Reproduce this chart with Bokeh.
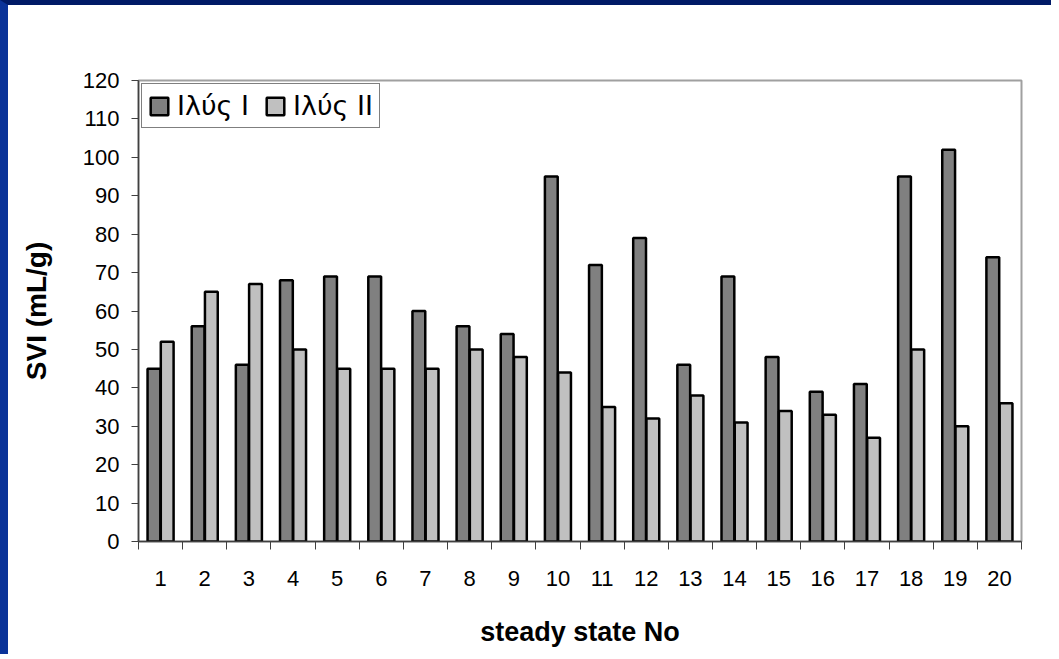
from bokeh.plotting import figure
from bokeh.models import ColumnDataSource, FixedTicker, Legend, LegendItem, Range1d
from bokeh.embed import file_html
from bokeh.resources import INLINE
from bokeh.transform import dodge

steady_state = [1, 2, 3, 4, 5, 6, 7, 8, 9, 10, 11, 12, 13, 14, 15, 16, 17, 18, 19, 20]
ilys_1 = [45, 56, 46, 68, 69, 69, 60, 56, 54, 95, 72, 79, 46, 69, 48, 39, 41, 95, 102, 74]
ilys_2 = [52, 65, 67, 50, 45, 45, 45, 50, 48, 44, 35, 32, 38, 31, 34, 33, 27, 50, 30, 36]
series_names = ["Ιλύς Ι", "Ιλύς ΙΙ"]
y_ticks = [0, 10, 20, 30, 40, 50, 60, 70, 80, 90, 100, 110, 120]

src = ColumnDataSource(dict(x=steady_state, a=ilys_1, b=ilys_2))

p = figure(width=1051, height=654, output_backend="svg", toolbar_location=None,
           x_range=Range1d(0.5, 20.5), y_range=Range1d(0, 120),
           min_border_left=130, min_border_right=38, min_border_top=75, min_border_bottom=118)
p.styles = {"border-left": "8px solid #0a3399", "border-top": "5px solid #001a66"}
p.background_fill_color = "white"
p.border_fill_color = "white"
p.outline_line_color = "#a0a0a0"
p.outline_line_width = 2
p.grid.visible = False

r1 = p.vbar(x=dodge("x", -0.15), top="a", width=0.29, source=src,
            fill_color="#808080", line_color="black", line_width=2.5)
r2 = p.vbar(x=dodge("x", 0.15), top="b", width=0.29, source=src,
            fill_color="#c0c0c0", line_color="black", line_width=2.5)

xa = p.xaxis[0]
xa.ticker = FixedTicker(ticks=steady_state,
                        minor_ticks=[v - 0.5 for v in steady_state] + [steady_state[-1] + 0.5])
xa.major_tick_out = 0
xa.major_tick_in = 0
xa.minor_tick_out = 8
xa.minor_tick_in = 0
xa.minor_tick_line_color = "#404040"
xa.axis_line_color = "#404040"
xa.axis_line_width = 1.5
xa.major_label_standoff = 21
xa.major_label_text_font = "Liberation Sans"
xa.major_label_text_font_size = "22px"
xa.major_label_text_color = "black"
xa.axis_label = "steady state No"
xa.axis_label_text_font = "Liberation Sans"
xa.axis_label_text_font_style = "bold"
xa.axis_label_text_font_size = "27px"
xa.axis_label_standoff = 28
xa.axis_label_text_color = "black"

ya = p.yaxis[0]
ya.ticker = FixedTicker(ticks=y_ticks, minor_ticks=[])
ya.major_tick_out = 7
ya.major_tick_in = 0
ya.major_tick_line_color = "#404040"
ya.axis_line_color = "#404040"
ya.axis_line_width = 1.5
ya.major_label_standoff = 12
ya.major_label_text_font = "Liberation Sans"
ya.major_label_text_font_size = "22px"
ya.major_label_text_color = "black"
ya.axis_label = "SVI (mL/g)"
ya.axis_label_text_font = "Liberation Sans"
ya.axis_label_text_font_style = "bold"
ya.axis_label_text_font_size = "28px"
ya.axis_label_standoff = 28
ya.axis_label_text_color = "black"

legend = Legend(items=[LegendItem(label=series_names[0], renderers=[r1]),
                       LegendItem(label=series_names[1], renderers=[r2])],
                location="top_left", orientation="horizontal")
legend.margin = 3
legend.padding = 6
legend.spacing = 15
legend.glyph_width = 22
legend.glyph_height = 22
legend.label_standoff = 7
legend.label_text_font = "DejaVu Sans"
legend.label_text_font_size = "27px"
legend.label_text_color = "black"
legend.border_line_color = "black"
legend.border_line_width = 1
legend.background_fill_alpha = 1
p.add_layout(legend, "center")

open("out.html", "w").write(file_html(p, INLINE))
